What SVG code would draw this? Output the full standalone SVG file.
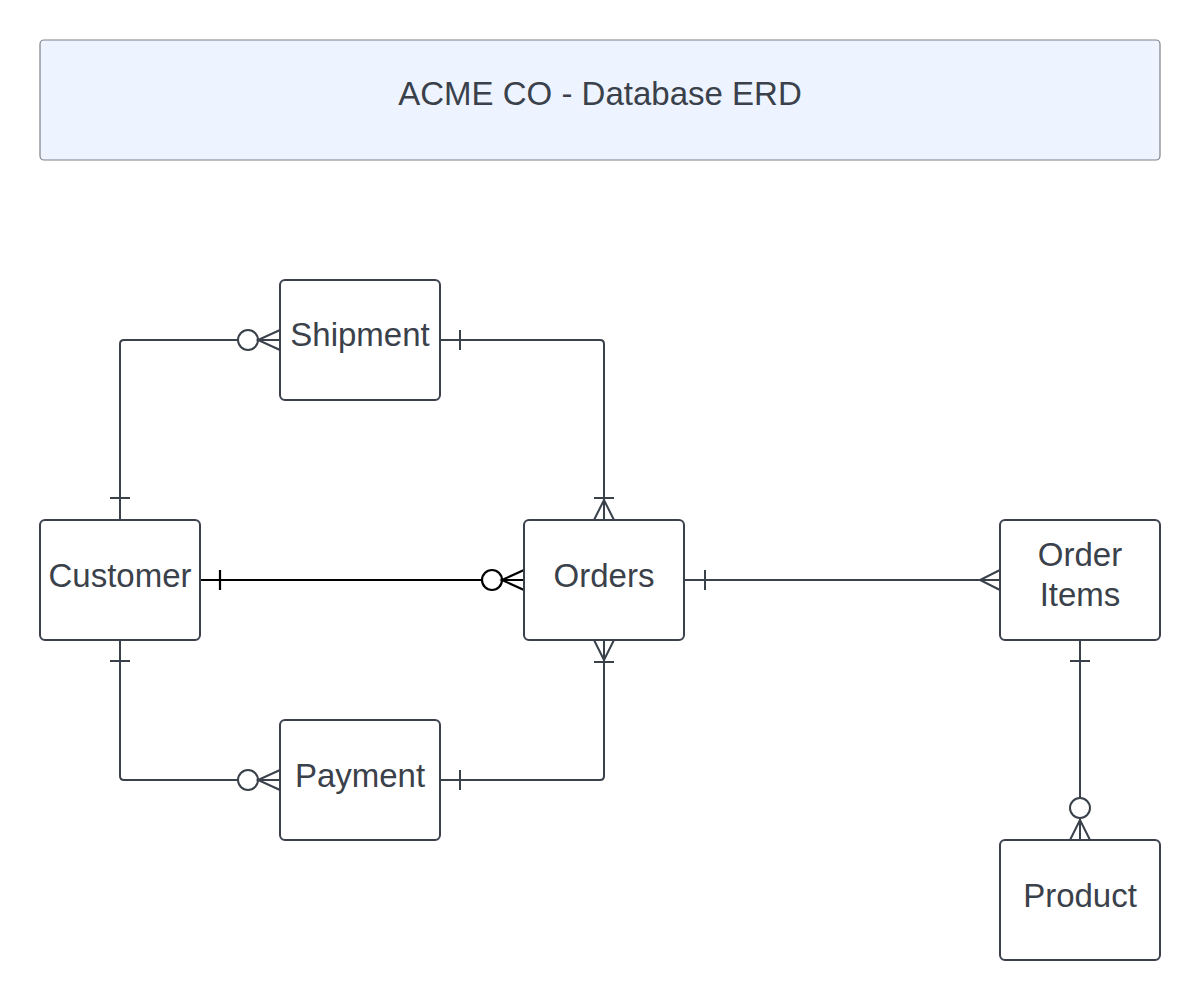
<svg xmlns="http://www.w3.org/2000/svg" width="1200" height="1000" viewBox="0 0 1200 1000">
<style>
.box{fill:#ffffff;stroke:#3a414a;stroke-width:2}
.title{fill:#edf4ff;stroke:#7c8088;stroke-width:1.2}
.lbl{font-family:"Liberation Sans",Arial,sans-serif;font-size:33px;fill:#3a414a;text-anchor:middle}
.ln{fill:none;stroke:#3a414a;stroke-width:2}
.lnb{fill:none;stroke:#000000;stroke-width:2.2}
.circ{fill:#ffffff;stroke:#3a414a;stroke-width:2}
.circb{fill:#ffffff;stroke:#000000;stroke-width:2.2}
</style>
<rect width="1200" height="1000" fill="#ffffff"/>
<g id="title">
<rect class="title" x="40" y="40" width="1120" height="120" rx="4"/>
<text class="lbl" x="600" y="105">ACME CO - Database ERD</text>
</g>
<g id="connectors">
<!-- Customer to Shipment -->
<path class="ln" d="M120,520 V344 Q120,340 124,340 H280"/>
<path class="ln" d="M110,498 H130"/>
<circle class="circ" cx="248" cy="340" r="10"/>
<path class="ln" d="M280,330 L258,340 L280,350"/>
<!-- Shipment to Orders -->
<path class="ln" d="M440,340 H600 Q604,340 604,344 V520"/>
<path class="ln" d="M460,330 V350"/>
<path class="ln" d="M594,498 H614"/>
<path class="ln" d="M594,520 L604,500 L614,520"/>
<!-- Customer to Orders -->
<path class="lnb" d="M200,580 H482"/>
<path class="lnb" d="M220,570 V590"/>
<circle class="circb" cx="492" cy="580" r="10"/>
<path class="lnb" d="M502,580 H524 M524,570 L502,580 L524,590"/>
<!-- Customer to Payment -->
<path class="ln" d="M120,640 V776 Q120,780 124,780 H280"/>
<path class="ln" d="M110,661 H130"/>
<circle class="circ" cx="248" cy="780" r="10"/>
<path class="ln" d="M280,770 L258,780 L280,790"/>
<!-- Payment to Orders -->
<path class="ln" d="M440,780 H600 Q604,780 604,776 V640"/>
<path class="ln" d="M460,770 V790"/>
<path class="ln" d="M594,662 H614"/>
<path class="ln" d="M594,640 L604,660 L614,640"/>
<!-- Orders to Order Items -->
<path class="ln" d="M684,580 H1000"/>
<path class="ln" d="M705,570 V590"/>
<path class="ln" d="M1000,570 L980,580 L1000,590"/>
<!-- Order Items to Product -->
<path class="ln" d="M1080,640 V798 M1080,818 V840"/>
<path class="ln" d="M1070,661 H1090"/>
<circle class="circ" cx="1080" cy="808" r="10"/>
<path class="ln" d="M1070,840 L1080,820 L1090,840"/>
</g>
<g id="shipment">
<rect class="box" x="280" y="280" width="160" height="120" rx="5"/>
<text class="lbl" x="360" y="346">Shipment</text>
</g>
<g id="customer">
<rect class="box" x="40" y="520" width="160" height="120" rx="5"/>
<text class="lbl" x="120" y="587">Customer</text>
</g>
<g id="orders">
<rect class="box" x="524" y="520" width="160" height="120" rx="5"/>
<text class="lbl" x="604" y="587">Orders</text>
</g>
<g id="order-items">
<rect class="box" x="1000" y="520" width="160" height="120" rx="5"/>
<text class="lbl" x="1080" y="566">Order</text>
<text class="lbl" x="1080" y="606">Items</text>
</g>
<g id="payment">
<rect class="box" x="280" y="720" width="160" height="120" rx="5"/>
<text class="lbl" x="360" y="787">Payment</text>
</g>
<g id="product">
<rect class="box" x="1000" y="840" width="160" height="120" rx="5"/>
<text class="lbl" x="1080" y="907">Product</text>
</g>
</svg>
